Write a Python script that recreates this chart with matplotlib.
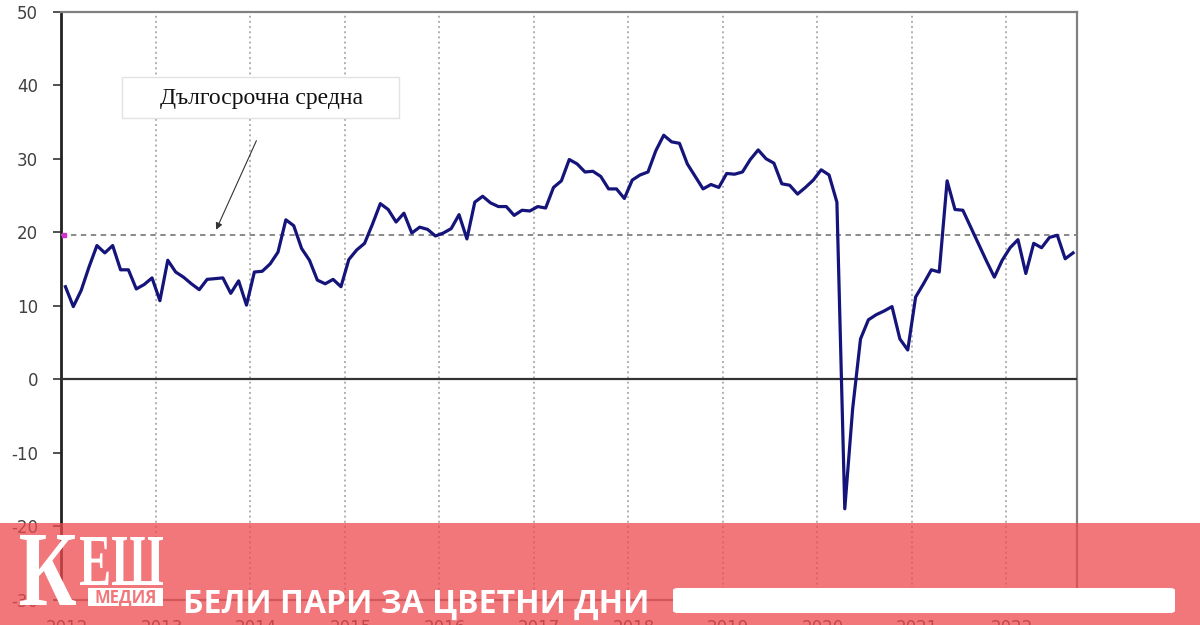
import numpy as np
import matplotlib.pyplot as plt
from matplotlib.patches import Rectangle, FancyBboxPatch, PathPatch
from matplotlib.textpath import TextPath
from matplotlib.font_manager import FontProperties
from matplotlib.transforms import Affine2D, IdentityTransform

plt.rcParams['axes.unicode_minus'] = False

# Monthly index, Jan 2012 - Sep 2022
years = list(range(2012, 2023))
values = [
    12.6, 9.9, 12.1, 15.3, 18.2, 17.2, 18.2, 14.9, 14.9, 12.3, 12.9, 13.8,   # 2012
    10.7, 16.2, 14.6, 13.9, 13.0, 12.2, 13.6, 13.7, 13.8, 11.7, 13.4, 10.1,  # 2013
    14.6, 14.7, 15.7, 17.3, 21.7, 20.9, 17.8, 16.2, 13.5, 13.0, 13.6, 12.6,  # 2014
    16.3, 17.6, 18.5, 21.1, 23.9, 23.1, 21.4, 22.6, 19.9, 20.7, 20.4, 19.5,  # 2015
    19.9, 20.5, 22.4, 19.1, 24.1, 24.9, 24.0, 23.5, 23.5, 22.3, 23.0, 22.9,  # 2016
    23.5, 23.3, 26.1, 27.0, 29.9, 29.3, 28.2, 28.3, 27.6, 25.9, 25.9, 24.6,  # 2017
    27.1, 27.8, 28.2, 31.1, 33.2, 32.3, 32.1, 29.3, 27.6, 25.9, 26.5, 26.1,  # 2018
    28.0, 27.9, 28.2, 29.9, 31.2, 30.0, 29.4, 26.6, 26.4, 25.2, 26.1, 27.1,  # 2019
    28.5, 27.8, 24.1, -17.6, -4.0, 5.5, 8.1, 8.8, 9.3, 9.9, 5.5, 4.0,        # 2020
    11.2, 13.0, 14.9, 14.6, 27.0, 23.1, 23.0, 20.7, 18.4, 16.1, 13.9, 16.2,  # 2021
    17.9, 19.0, 14.4, 18.5, 17.9, 19.3, 19.6, 16.4, 17.2,                    # 2022
]
long_term_avg = 19.7
avg_label = 'Дългосрочна средна'

months = np.arange(len(values)) + 0.5

fig = plt.figure(figsize=(12, 6.25), dpi=100)
ax = fig.add_axes([0.05125, 0.04, 0.84625, 0.9413])

ax.set_xlim(0, 129)
ax.set_ylim(-30, 50)
ax.set_yticks(range(-30, 51, 10))

# year gridlines on major ticks, year labels on minor ticks
ax.set_xticks(np.arange(len(years)) * 12)
ax.set_xticklabels([])
ax.set_xticks(np.arange(len(years)) * 12 + 0.7, minor=True)
ax.set_xticklabels(years, minor=True)
ax.tick_params(axis='x', which='both', length=0)
ax.tick_params(axis='x', which='minor', pad=14, labelsize=12, labelcolor='#404040')
ax.tick_params(axis='y', length=6, width=1.2, color='#333333', pad=11,
               labelsize=12, labelcolor='#404040')
ax.grid(axis='x', which='major', linestyle=':', color='#b0b0b0', lw=1.4)

ax.spines['left'].set_color('#222222')
ax.spines['left'].set_linewidth(2)
for s in ['top', 'right', 'bottom']:
    ax.spines[s].set_color('#808080')
    ax.spines[s].set_linewidth(1.6)

ax.axhline(0, color='#333333', lw=1.6, zorder=3)
ax.axhline(long_term_avg, color='#808080', lw=1.3, linestyle=(0, (3, 2.5)), zorder=3)
ax.plot(0.35, long_term_avg, marker='s', ms=3, color='#cc33cc', zorder=6)

ax.plot(months, values, color='#14147a', lw=2.3, zorder=5)

# label box with arrow pointing at the average line
ax.add_patch(Rectangle((0.06, 0.8185), 0.272, 0.0697, transform=ax.transAxes,
                       fc='white', ec='#e2e2e2', lw=1, zorder=4))
ax.text(0.197, 0.853, avg_label, transform=ax.transAxes, ha='center', va='center',
        fontsize=17, family='Liberation Serif', color='#111111', zorder=5)
ax.annotate('', xy=(19.5, long_term_avg + 0.3), xytext=(24.9, 32.8),
            arrowprops=dict(arrowstyle='-|>', color='#333333', lw=0.8,
                            mutation_scale=10), zorder=5)

# pink banner over the bottom of the chart
fig.add_artist(Rectangle((0, 0), 1, 0.1632, transform=fig.transFigure,
                         color='#ee4a4f', alpha=0.75, lw=0, zorder=10))


def logo_text(s, x0, y0, x1, y1):
    # text squeezed into a pixel box (pixels from the bottom-left corner)
    tp = TextPath((0, 0), s, size=100,
                  prop=FontProperties(family='Liberation Serif', weight='bold'))
    ext = tp.get_extents()
    tr = (Affine2D().translate(-ext.x0, -ext.y0)
          .scale((x1 - x0) / ext.width, (y1 - y0) / ext.height)
          .translate(x0, y0))
    fig.add_artist(PathPatch(tr.transform_path(tp), transform=IdentityTransform(),
                             fc='white', ec='none', zorder=11))


logo_text('К', 20, 20, 76, 90)
logo_text('ЕШ', 80, 40, 163, 88)
fig.add_artist(Rectangle((88 / 1200, 0.0304), 75 / 1200, 0.0288,
                         transform=fig.transFigure, fc='white', lw=0, zorder=11))
fig.text(125.5 / 1200, 0.0448, 'МЕДИЯ', fontsize=12, family='Open Sans',
         weight='bold', color='#f2777b', ha='center', va='center', zorder=12)
fig.text(183 / 1200, 0.0192, 'БЕЛИ ПАРИ ЗА ЦВЕТНИ ДНИ', fontsize=23,
         family='Open Sans', weight='bold', color='white', va='baseline', zorder=11)
fig.add_artist(FancyBboxPatch((673 / 1200, 0.0192), 502 / 1200, 0.04,
                              boxstyle='round,pad=0,rounding_size=0.004',
                              transform=fig.transFigure, fc='white', ec='none',
                              zorder=11))

fig.savefig('out.png', dpi=100)
